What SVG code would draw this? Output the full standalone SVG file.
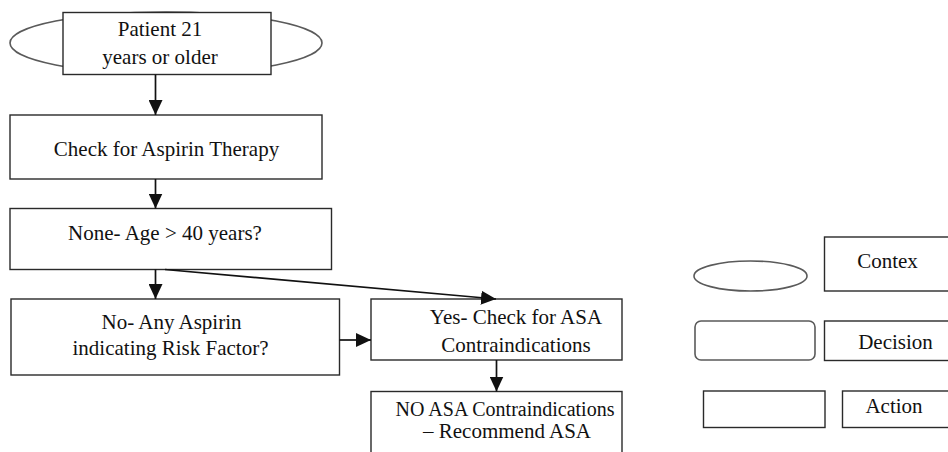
<svg xmlns="http://www.w3.org/2000/svg" width="948" height="452" viewBox="0 0 948 452">
  <style>
    .bg { fill: #ffffff; }
    .box { fill: #ffffff; stroke: #2a2a2a; stroke-width: 1.4; }
    .ctx { fill: #ffffff; stroke: #5a5a5a; stroke-width: 1.6; }
    .lbl { font-family: "Liberation Serif", "Times New Roman", serif; font-size: 21px; fill: #111111; text-anchor: middle; }
    .sm { font-size: 20px; }
    .edge { fill: none; stroke: #111111; stroke-width: 1.7; }
  </style>
  <defs>
    <marker id="arrow" markerUnits="userSpaceOnUse" markerWidth="16" markerHeight="14" refX="15" refY="7" orient="auto">
      <path d="M0,0 L15,7 L0,14 z" fill="#111111"/>
    </marker>
  </defs>

  <rect class="bg" x="0" y="0" width="948" height="452"/>

  <!-- Context node: patient -->
  <g id="patient">
    <ellipse class="ctx" cx="166" cy="43" rx="156" ry="31"/>
    <rect class="box" x="63" y="12.5" width="208" height="62"/>
    <text class="lbl" x="160" y="36">Patient 21</text>
    <text class="lbl" x="160" y="63.5">years or older</text>
  </g>

  <g id="check-therapy">
    <rect class="box" x="10" y="115" width="312" height="64"/>
    <text class="lbl" x="166.5" y="156">Check for Aspirin Therapy</text>
  </g>

  <g id="age-check">
    <rect class="box" x="10" y="208.5" width="321.5" height="61"/>
    <text class="lbl" x="165" y="240">None- Age &gt; 40 years?</text>
  </g>

  <g id="risk-factor">
    <rect class="box" x="11" y="299" width="328.5" height="76"/>
    <text class="lbl" x="171.5" y="328.5">No- Any Aspirin</text>
    <text class="lbl" x="170.5" y="354.5">indicating Risk Factor?</text>
  </g>

  <g id="contraindications">
    <rect class="box" x="371" y="299" width="251" height="61"/>
    <text class="lbl" x="516" y="323.5">Yes- Check for ASA</text>
    <text class="lbl" x="516" y="352">Contraindications</text>
  </g>

  <g id="recommend">
    <rect class="box" x="371" y="391.5" width="251" height="70"/>
    <text class="lbl sm" x="505" y="415.5">NO ASA Contraindications</text>
    <text class="lbl" x="507" y="438">– Recommend ASA</text>
  </g>

  <!-- Connectors -->
  <g id="connectors">
    <line class="edge" x1="155.5" y1="74.5" x2="155.5" y2="115" marker-end="url(#arrow)"/>
    <line class="edge" x1="155.5" y1="179" x2="155.5" y2="208.5" marker-end="url(#arrow)"/>
    <line class="edge" x1="155.5" y1="269.5" x2="155.5" y2="299" marker-end="url(#arrow)"/>
    <line class="edge" x1="165" y1="269.5" x2="496" y2="299" marker-end="url(#arrow)"/>
    <line class="edge" x1="339.5" y1="340" x2="371" y2="340" marker-end="url(#arrow)"/>
    <line class="edge" x1="496.5" y1="360" x2="496.5" y2="391.5" marker-end="url(#arrow)"/>
  </g>

  <!-- Legend -->
  <g id="legend-context">
    <ellipse class="ctx" cx="750.5" cy="276" rx="56.5" ry="15"/>
    <rect class="box" x="824.5" y="237" width="130" height="54"/>
    <text class="lbl" x="887.5" y="267.5">Contex</text>
  </g>
  <g id="legend-decision">
    <rect class="ctx" x="695" y="321" width="120" height="39" rx="6" ry="6"/>
    <rect class="box" x="824.5" y="321" width="130" height="39.5"/>
    <text class="lbl" x="895.5" y="348.5">Decision</text>
  </g>
  <g id="legend-action">
    <rect class="box" x="703.5" y="391" width="121.5" height="36.5"/>
    <rect class="box" x="842.5" y="391" width="120" height="36.5"/>
    <text class="lbl" x="894" y="413">Action</text>
  </g>
</svg>
